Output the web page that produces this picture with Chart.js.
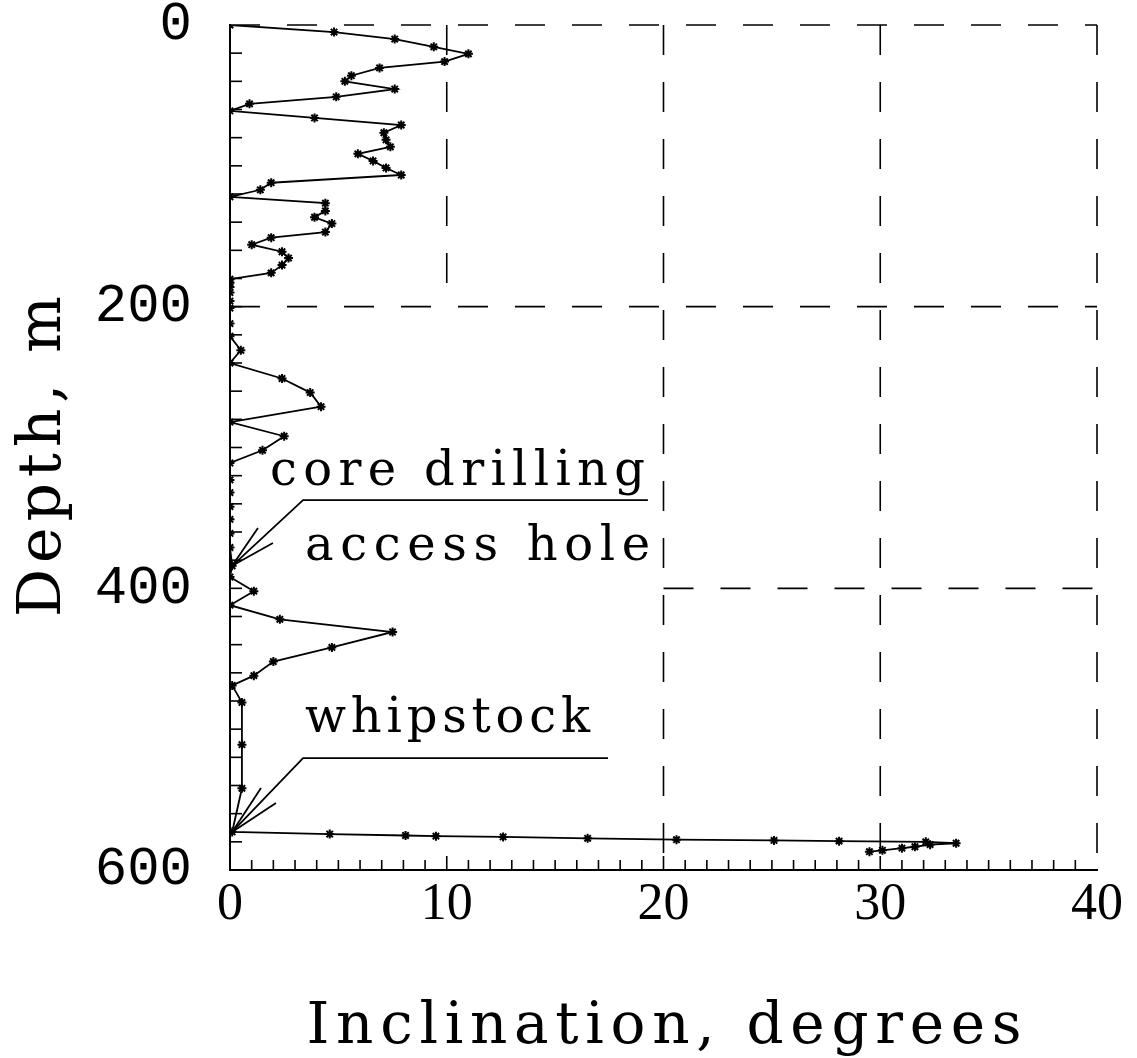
<!DOCTYPE html>
<html>
<head>
<meta charset="utf-8">
<title>Inclination vs depth</title>
<script src="https://cdn.jsdelivr.net/npm/chart.js@4.4.1/dist/chart.umd.min.js"></script>
<style>
  html, body { margin: 0; padding: 0; background: #fff; }
  #wrap { width: 1137px; height: 1058px; }
</style>
</head>
<body>
<div id="wrap"><canvas id="survey-chart"></canvas></div>
<script>
// survey stations (inclination in degrees, depth in m)
const inclination = [
    0, 4.8, 7.6, 9.4, 11.0, 9.9, 6.9, 5.6, 5.3, 7.6, 4.9, 0.9, 0,
    3.9, 7.9, 7.1, 7.2, 7.4, 5.9, 6.6, 7.2, 7.9, 1.9, 1.4, 0,
    4.4, 4.4, 3.9, 4.7, 4.4, 1.9, 1.0, 2.4, 2.7, 2.4, 1.9, 0,
    0, 0, 0, 0, 0, 0, 0, 0.5, 0, 2.4, 3.7, 4.2, 0, 2.5, 1.5, 0,
    0, 0, 0, 0, 0, 0, 0.1, 0, 1.1, 0, 2.3, 7.5, 4.7, 2.0, 1.1, 0.1,
    0.55, 0.55, 0.55, 0.1,
    4.6, 8.1, 9.5, 12.6, 16.5, 20.6, 25.1, 28.1, 32.1, 33.5,
    32.3, 31.6, 31.0, 30.1, 29.5
];
const depth = [
    0, 5, 10, 15.5, 20.5, 26, 30.5, 36, 40, 45.5, 51, 56, 61,
    66, 71, 76.5, 81.5, 86.5, 91.5, 96.5, 101.5, 106.5, 112, 117, 122,
    126.5, 132, 136.5, 141, 147, 151, 156, 161, 165.5, 170.5, 176, 180.5,
    183, 186, 190, 196, 201, 212, 221, 231, 240, 251, 261, 271, 282, 292, 302, 311,
    323, 332, 342, 351, 361, 371, 384, 392, 402, 412, 422, 431, 442, 452, 462, 469,
    481, 511, 542, 573,
    574.5, 575.5, 576, 576.5, 577.5, 578.5, 579, 579.5, 580, 581,
    582, 583.5, 584.5, 586, 587
];
const xTickValues = [0, 10, 20, 30, 40];
const yTickValues = [0, 200, 400, 600];
const xTitle = "Inclination, degrees";
const yTitle = "Depth, m";

// dashed box lines: [x1, depth1, x2, depth2]
const dashedLines = [
    [0, 0, 40, 0], [0, 200, 40, 200], [20, 400, 40, 400],
    [10, 0, 10, 200], [20, 0, 20, 600], [30, 0, 30, 600], [40, 0, 40, 600]
];

// annotations in data units: text lines, leader line, arrow barbs
const annotations = [
    {
        lines: [
            { text: "core drilling", x1: 1.85, x2: 19.15, d: 326.6 },
            { text: "access hole", x1: 3.46, x2: 19.38, d: 379.9 }
        ],
        leader: [[0.1, 384], [3.37, 337.3], [19.28, 337.3]],
        barbs: [[1.29, 357.2], [1.98, 367.8]]
    },
    {
        lines: [
            { text: "whipstock", x1: 3.46, x2: 16.61, d: 502 }
        ],
        leader: [[0.1, 573], [3.37, 520.5], [17.44, 520.5]],
        barbs: [[1.43, 541.8], [2.12, 552.4]]
    }
];

function drawSpaced(ctx, text, x, y, width) {
    ctx.letterSpacing = "0px";
    const natural = ctx.measureText(text).width;
    const gap = text.length > 1 ? (width - natural) / (text.length - 1) : 0;
    ctx.letterSpacing = gap + "px";
    ctx.fillText(text, x, y);
    ctx.letterSpacing = "0px";
}

const boxPlugin = {
    id: 'boxes',
    beforeDatasetsDraw(chart) {
        const { ctx, scales: { x, y } } = chart;
        ctx.save();
        ctx.strokeStyle = '#000';
        ctx.lineWidth = 1.6;
        ctx.setLineDash([30, 27]);
        dashedLines.forEach(l => {
            ctx.beginPath();
            ctx.moveTo(x.getPixelForValue(l[0]), y.getPixelForValue(l[1]));
            ctx.lineTo(x.getPixelForValue(l[2]), y.getPixelForValue(l[3]));
            ctx.stroke();
        });
        ctx.setLineDash([]);

        // inward minor ticks
        const left = x.getPixelForValue(0);
        for (let d = 20; d < 600; d += 20) {
            const py = y.getPixelForValue(d);
            ctx.beginPath();
            ctx.moveTo(left, py);
            ctx.lineTo(left + 12, py);
            ctx.stroke();
        }
        const bottom = y.getPixelForValue(600);
        for (let v = 1; v < 40; v++) {
            const px = x.getPixelForValue(v);
            ctx.beginPath();
            ctx.moveTo(px, bottom);
            ctx.lineTo(px, bottom - (v % 10 === 0 ? 14 : 10));
            ctx.stroke();
        }
        ctx.restore();
    },
    afterDraw(chart) {
        const { ctx, scales: { x, y }, chartArea } = chart;
        ctx.save();
        ctx.fillStyle = '#000';
        ctx.strokeStyle = '#000';
        ctx.textAlign = 'left';
        ctx.textBaseline = 'alphabetic';

        ctx.font = '48px "DejaVu Serif"';
        ctx.lineWidth = 1.8;
        annotations.forEach(a => {
            a.lines.forEach(t => {
                const px1 = x.getPixelForValue(t.x1);
                drawSpaced(ctx, t.text, px1, y.getPixelForValue(t.d), x.getPixelForValue(t.x2) - px1);
            });
            ctx.beginPath();
            a.leader.forEach((p, i) => {
                const px = x.getPixelForValue(p[0]), py = y.getPixelForValue(p[1]);
                if (i === 0) ctx.moveTo(px, py); else ctx.lineTo(px, py);
            });
            ctx.stroke();
            const tipX = x.getPixelForValue(a.leader[0][0]), tipY = y.getPixelForValue(a.leader[0][1]);
            a.barbs.forEach(b => {
                ctx.beginPath();
                ctx.moveTo(tipX, tipY);
                ctx.lineTo(x.getPixelForValue(b[0]), y.getPixelForValue(b[1]));
                ctx.stroke();
            });
        });

        // axis titles
        ctx.font = '58px "DejaVu Serif"';
        const cx = (chartArea.left + chartArea.right) / 2;
        drawSpaced(ctx, xTitle, cx - 357, chart.height - 15, 715);

        ctx.font = '60px "DejaVu Serif"';
        ctx.translate(60, 617);
        ctx.rotate(-Math.PI / 2);
        drawSpaced(ctx, yTitle, 0, 0, 321);
        ctx.restore();
    }
};

function buildChart() {
    const ctx = document.getElementById('survey-chart').getContext('2d');
    const points = depth.map((d, i) => ({ x: inclination[i], y: d }));
    new Chart(ctx, {
        type: 'scatter',
        data: {
            datasets: [{
                label: 'Inclination',
                data: points,
                showLine: true,
                borderColor: '#000',
                borderWidth: 1.8,
                pointStyle: 'star',
                pointRadius: 4.5,
                pointBorderWidth: 2,
                pointBorderColor: '#000',
                pointBackgroundColor: '#000',
                tension: 0
            }]
        },
        options: {
            responsive: true,
            maintainAspectRatio: false,
            animation: false,
            layout: { padding: { top: 25, right: 40, left: 0, bottom: 0 } },
            plugins: {
                legend: { display: false },
                tooltip: { enabled: false }
            },
            scales: {
                x: {
                    type: 'linear',
                    min: 0,
                    max: 40,
                    afterBuildTicks: scale => { scale.ticks = xTickValues.map(v => ({ value: v })); },
                    ticks: {
                        color: '#000',
                        padding: 4,
                        maxRotation: 0,
                        font: { family: 'Liberation Serif', size: 52 }
                    },
                    grid: { display: false, drawTicks: false },
                    border: { display: true, color: '#000', width: 2 },
                    afterFit: scale => {
                        scale.height = 188;
                        scale.paddingLeft = 0;
                        scale.paddingRight = 0;
                    }
                },
                y: {
                    type: 'linear',
                    reverse: true,
                    min: 0,
                    max: 600,
                    afterBuildTicks: scale => { scale.ticks = yTickValues.map(v => ({ value: v })); },
                    ticks: {
                        color: '#000',
                        padding: 38,
                        font: { family: 'Liberation Mono', size: 54 }
                    },
                    grid: { display: false, drawTicks: false },
                    border: { display: true, color: '#000', width: 2 },
                    afterFit: scale => {
                        scale.width = 230;
                        scale.paddingTop = 0;
                        scale.paddingBottom = 0;
                    }
                }
            }
        },
        plugins: [boxPlugin]
    });
}

document.addEventListener("DOMContentLoaded", buildChart);
</script>
</body>
</html>
